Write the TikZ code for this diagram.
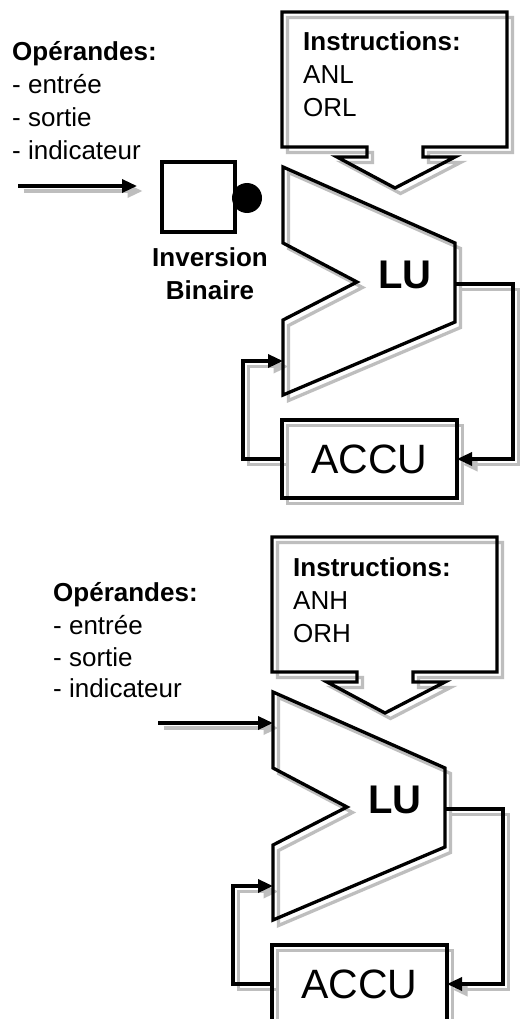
\documentclass[tikz,border=0pt]{standalone}
\usepackage{fontspec}
\setmainfont{Liberation Sans}
\usetikzlibrary{arrows.meta}
\pgfdeclarelayer{back}
\pgfdeclarelayer{bg}
\pgfsetlayers{back,bg,main}
\definecolor{shadowgray}{RGB}{190,190,190}
\tikzset{
  ln/.style={line width=3.3pt, line join=miter, miter limit=10},
  blk/.style={ln, draw=black},
  sh/.style={ln, draw=shadowgray},
  arr/.style={-{Triangle[length=15pt,width=13pt]}},
  txt/.style={inner sep=0pt, anchor=base west, font=\fontsize{26}{31}\selectfont},
  btxt/.style={txt, font=\fontsize{26}{31}\selectfont\bfseries},
  lutxt/.style={inner sep=0pt, font=\fontsize{40}{48}\selectfont\bfseries},
  accubox/.style={blk, inner sep=0pt, outer sep=0pt, minimum width=175pt, minimum height=78pt, font=\fontsize{41}{49}\selectfont},
  sq/.style={blk, inner sep=0pt, minimum width=73pt, minimum height=70pt},
  dotnode/.style={circle, fill=black, inner sep=0pt, minimum size=30pt},
}
\def\calloutpath{(282,12) -- (507,12) -- (507,147) -- (423,147) -- (423,157) -- (455,157) -- (395,188) -- (337,157) -- (367,157) -- (367,147) -- (282,147) -- cycle}
\def\lupath{(283,167) -- (455,243) -- (455,322) -- (283,395) -- (283,320) -- (357,282) -- (283,243) -- cycle}
\newcommand\aluunit[4]{%
 \begin{scope}[shift={#2}]
  \begin{pgfonlayer}{bg}
   \draw[sh,shift={(5.5,5.5)}] \calloutpath;
   \draw[sh,shift={(5.5,5.5)}] \lupath;
  \end{pgfonlayer}
  \draw[blk] \calloutpath;
  \draw[blk] \lupath;
  \node[btxt] (#1ins) at (303,51) {Instructions:};
  \node[txt] (#1i1) at (303,84) {#3};
  \node[txt] (#1i2) at (303,117) {#4};
  \node[lutxt] (#1lu) at (405,275) {LU};
  \node[accubox] (#1accu) at (369.5,459) {ACCU\hspace{12pt}};
  \coordinate (#1out) at (455,284);
  \coordinate (#1fb) at (283,361);
  \coordinate (#1in) at (283,198);
  \draw[blk,arr] (#1out) -- ++(58,0) |- (#1accu.east);
  \draw[blk,arr] (#1accu.west) -- ++(-39,0) |- (#1fb);
  \begin{pgfonlayer}{bg}
   \draw[sh] ([xshift=5.5pt,yshift=-5.5pt]#1accu.north west) rectangle ([xshift=5.5pt,yshift=-5.5pt]#1accu.south east);
   \draw[sh,arr] ([xshift=5.5pt,yshift=-5.5pt]#1out) -- ++(58,0) |- ([xshift=5.5pt,yshift=-5.5pt]#1accu.east);
   \draw[sh,arr] ([xshift=5.5pt,yshift=-5.5pt]#1accu.west) -- ++(-39,0) |- ([xshift=5.5pt,yshift=-5.5pt]#1fb);
  \end{pgfonlayer}
 \end{scope}}
\begin{document}
\begin{tikzpicture}[x=1pt,y=-1pt]
\begin{pgfonlayer}{back}\fill[white] (0,0) rectangle (519,1019);\end{pgfonlayer}
\useasboundingbox (0,0) rectangle (519,1019);
\aluunit{t}{(0,0)}{ANL}{ORL}
\aluunit{b}{(-10,525)}{ANH}{ORH}
% top operands
\node[btxt] (top0) at (12,61) {Opérandes:};
\node[txt] (top1) at (12,94) {- entrée};
\node[txt] (top2) at (12,127) {- sortie};
\node[txt] (top3) at (12,160) {- indicateur};
% inversion
\node[sq] (inv) at (198.5,197) {};
\node[dotnode] (dot) at (247,198) {};
\node[btxt, anchor=base] (invl1) at (210,266) {Inversion};
\node[btxt, anchor=base] (invl2) at (210,299) {Binaire};
\coordinate (tin0) at (18,186);
\coordinate (tin1) at (137,186);
\draw[blk,arr] (tin0) -- (tin1);
\begin{pgfonlayer}{bg}
 \draw[sh,arr] ([xshift=5.5pt,yshift=-5pt]tin0) -- ([xshift=5.5pt,yshift=-5pt]tin1);
\end{pgfonlayer}
% bottom operands
\node[btxt] (bop0) at (53,601) {Opérandes:};
\node[txt] (bop1) at (53,634) {- entrée};
\node[txt] (bop2) at (53,666) {- sortie};
\node[txt] (bop3) at (53,697) {- indicateur};
\coordinate (bin0) at (158,723);
\draw[blk,arr] (bin0) -- (bin);
\begin{pgfonlayer}{bg}
 \draw[sh,arr] ([xshift=5.5pt,yshift=-5pt]bin0) -- ([xshift=5.5pt,yshift=-5pt]bin);
\end{pgfonlayer}
\end{tikzpicture}
\end{document}
